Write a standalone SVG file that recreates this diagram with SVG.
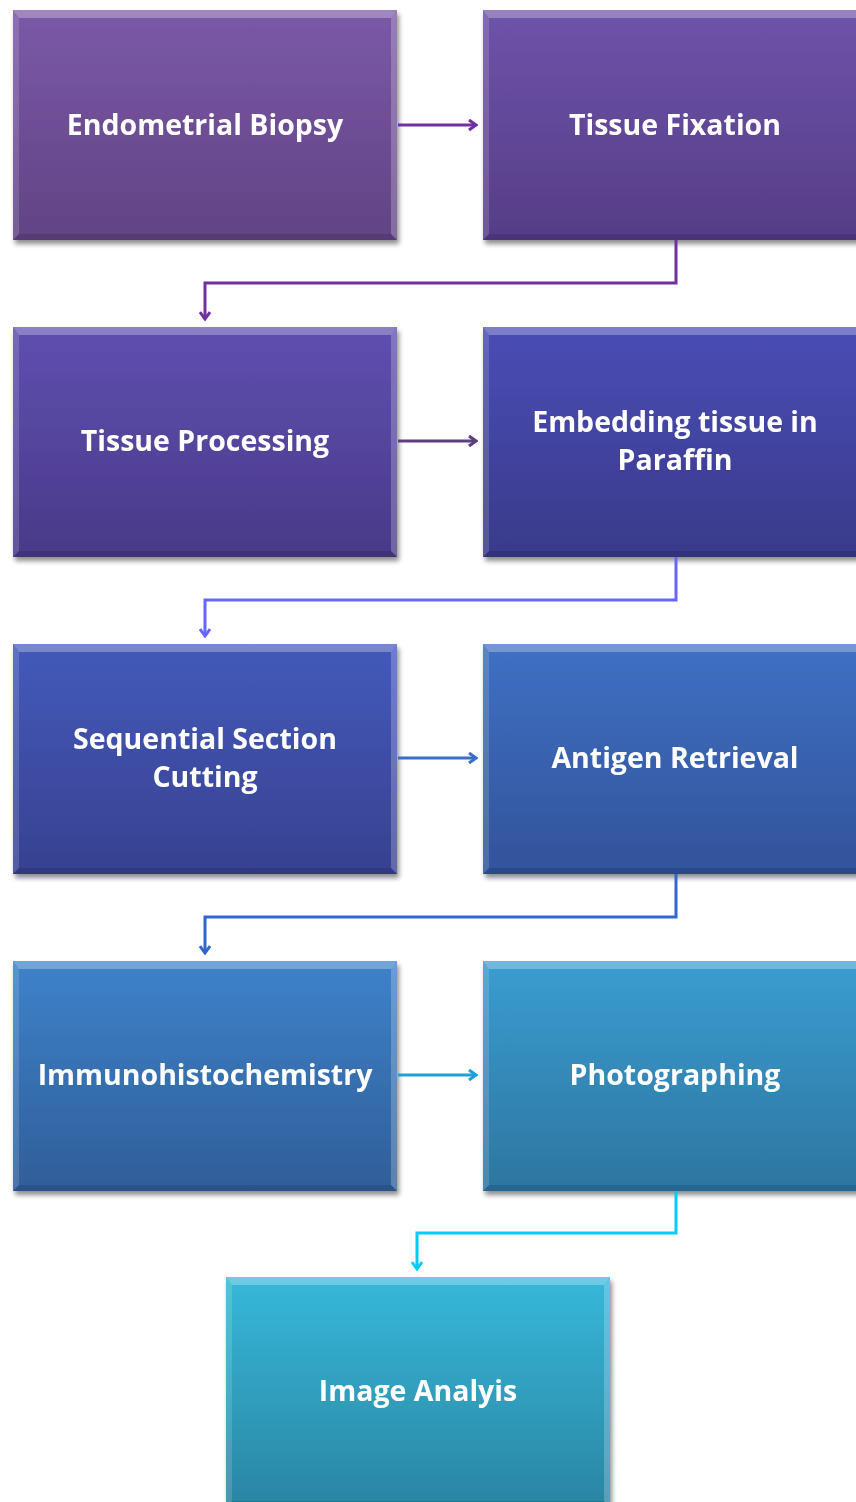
<svg xmlns="http://www.w3.org/2000/svg" width="856" height="1502" viewBox="0 0 856 1502">
<defs>
<style>
.t{font-family:"Open Sans","Liberation Sans",sans-serif;font-weight:bold;font-size:28.5px;fill:#fff;text-anchor:middle}
.c{fill:none;stroke-width:3}
.bt{fill:#ffffff;opacity:0.28}
.bl{fill:#ffffff;opacity:0.14}
.br{fill:#ffffff;opacity:0.22}
.bb{fill:#000000;opacity:0.12}
</style>
<filter id="sh" x="-5%" y="-5%" width="115%" height="115%"><feGaussianBlur in="SourceAlpha" stdDeviation="2.5"/><feOffset dx="2" dy="4"/><feComponentTransfer><feFuncA type="linear" slope="0.45"/></feComponentTransfer><feMerge><feMergeNode/><feMergeNode in="SourceGraphic"/></feMerge></filter>
<linearGradient id="g1" x1="0" y1="0" x2="0" y2="1"><stop offset="0" stop-color="#7b59a7"/><stop offset="1" stop-color="#614384"/></linearGradient>
<linearGradient id="g2" x1="0" y1="0" x2="0" y2="1"><stop offset="0" stop-color="#6e53aa"/><stop offset="1" stop-color="#553d86"/></linearGradient>
<linearGradient id="g3" x1="0" y1="0" x2="0" y2="1"><stop offset="0" stop-color="#5f4fb0"/><stop offset="1" stop-color="#493a88"/></linearGradient>
<linearGradient id="g4" x1="0" y1="0" x2="0" y2="1"><stop offset="0" stop-color="#4a4db6"/><stop offset="1" stop-color="#393a8a"/></linearGradient>
<linearGradient id="g5" x1="0" y1="0" x2="0" y2="1"><stop offset="0" stop-color="#445aba"/><stop offset="1" stop-color="#374190"/></linearGradient>
<linearGradient id="g6" x1="0" y1="0" x2="0" y2="1"><stop offset="0" stop-color="#3f70c3"/><stop offset="1" stop-color="#32539a"/></linearGradient>
<linearGradient id="g7" x1="0" y1="0" x2="0" y2="1"><stop offset="0" stop-color="#3e82ca"/><stop offset="1" stop-color="#2f5e98"/></linearGradient>
<linearGradient id="g8" x1="0" y1="0" x2="0" y2="1"><stop offset="0" stop-color="#3b9dd0"/><stop offset="1" stop-color="#2d75a0"/></linearGradient>
<linearGradient id="g9" x1="0" y1="0" x2="0" y2="1"><stop offset="0" stop-color="#37b8da"/><stop offset="1" stop-color="#2a85a2"/></linearGradient>
<g id="bevel">
<polygon class="bt" points="0,0 384,0 378,8 6,8"/>
<polygon class="bl" points="0,0 6,8 6,224 0,230"/>
<polygon class="br" points="384,0 384,230 378,224 378,8"/>
<polygon class="bb" points="0,230 384,230 378,224 6,224"/>
</g>
<marker id="ah" viewBox="0 0 12 12" refX="10" refY="6" markerWidth="12" markerHeight="12" markerUnits="userSpaceOnUse" orient="auto"><path d="M3,1 L10,6 L3,11" fill="none" stroke="context-stroke" stroke-width="3"/></marker>
</defs>
<rect width="856" height="1502" fill="#ffffff"/>

<g id="n1" filter="url(#sh)"><rect x="13" y="10" width="384" height="230" fill="url(#g1)"/><use href="#bevel" x="13" y="10"/><text class="t" x="205" y="135">Endometrial Biopsy</text></g>
<g id="n2" filter="url(#sh)"><rect x="483" y="10" width="384" height="230" fill="url(#g2)"/><use href="#bevel" x="483" y="10"/><text class="t" x="675" y="135">Tissue Fixation</text></g>
<g id="n3" filter="url(#sh)"><rect x="13" y="327" width="384" height="230" fill="url(#g3)"/><use href="#bevel" x="13" y="327"/><text class="t" x="205" y="451">Tissue Processing</text></g>
<g id="n4" filter="url(#sh)"><rect x="483" y="327" width="384" height="230" fill="url(#g4)"/><use href="#bevel" x="483" y="327"/><text class="t" x="675" y="432">Embedding tissue in</text><text class="t" x="675" y="470">Paraffin</text></g>
<g id="n5" filter="url(#sh)"><rect x="13" y="644" width="384" height="230" fill="url(#g5)"/><use href="#bevel" x="13" y="644"/><text class="t" x="205" y="749">Sequential Section</text><text class="t" x="205" y="787">Cutting</text></g>
<g id="n6" filter="url(#sh)"><rect x="483" y="644" width="384" height="230" fill="url(#g6)"/><use href="#bevel" x="483" y="644"/><text class="t" x="675" y="768">Antigen Retrieval</text></g>
<g id="n7" filter="url(#sh)"><rect x="13" y="961" width="384" height="230" fill="url(#g7)"/><use href="#bevel" x="13" y="961"/><text class="t" x="205" y="1085">Immunohistochemistry</text></g>
<g id="n8" filter="url(#sh)"><rect x="483" y="961" width="384" height="230" fill="url(#g8)"/><use href="#bevel" x="483" y="961"/><text class="t" x="675" y="1085">Photographing</text></g>
<g id="n9" filter="url(#sh)"><rect x="226" y="1277" width="384" height="230" fill="url(#g9)"/><use href="#bevel" x="226" y="1277"/><text class="t" x="418" y="1401">Image Analyis</text></g>

<g id="connectors">
<path class="c" stroke="#7030a0" d="M398,125 H476" marker-end="url(#ah)"/>
<path class="c" stroke="#7030a0" d="M676,240 V283 H205 V319" marker-end="url(#ah)"/>
<path class="c" stroke="#5b3f80" d="M398,441 H476" marker-end="url(#ah)"/>
<path class="c" stroke="#6666ff" d="M676,557 V600 H205 V636" marker-end="url(#ah)"/>
<path class="c" stroke="#3b6fcb" d="M398,758 H476" marker-end="url(#ah)"/>
<path class="c" stroke="#3366cc" d="M676,874 V917 H205 V953" marker-end="url(#ah)"/>
<path class="c" stroke="#1fa0d8" d="M398,1075 H476" marker-end="url(#ah)"/>
<path class="c" stroke="#00ccff" d="M676,1191 V1233 H417 V1269" marker-end="url(#ah)"/>
</g>
</svg>
